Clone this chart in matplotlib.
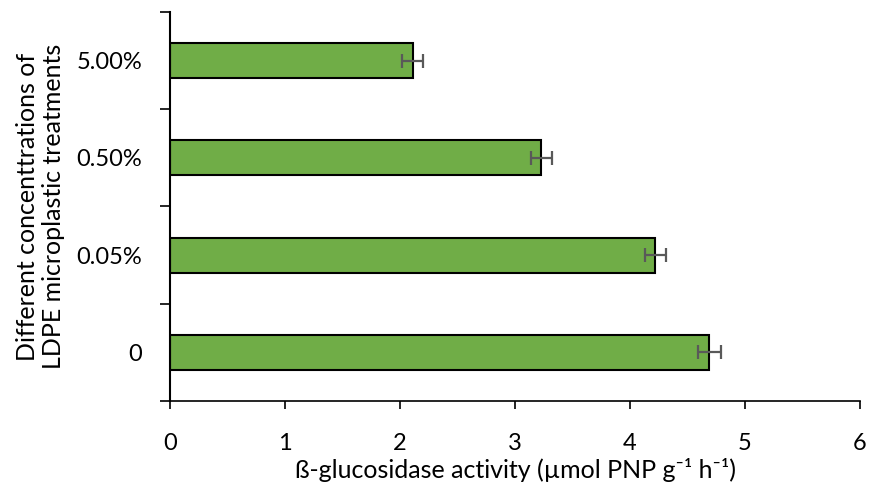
import matplotlib.pyplot as plt
import numpy as np

plt.rcParams["font.family"] = ["Lato", "DejaVu Sans"]

categories = ["0", "0.05%", "0.50%", "5.00%"]
activity = [4.69, 4.22, 3.23, 2.11]
errors = [0.10, 0.09, 0.09, 0.09]

fig = plt.figure(figsize=(8.75, 4.9), dpi=100)
ax = fig.add_axes([0.1943, 0.1816, 0.7886, 0.794])

y = np.arange(len(categories))
ax.barh(y, activity, height=0.36, color="#70AD47", edgecolor="black", linewidth=1.5,
        xerr=errors, error_kw=dict(ecolor="#595959", elinewidth=1.6, capsize=5, capthick=1.6))

ax.set_xlim(0, 6)
ax.set_ylim(-0.5, 3.5)
ax.set_xticks(range(7))
ax.set_yticks(y)
ax.set_yticklabels(categories)
ax.set_yticks(np.arange(-0.5, 4, 1), minor=True)

ax.tick_params(axis="x", length=6, width=1.2, pad=17, labelsize=17)
ax.tick_params(axis="y", which="major", length=0, pad=20, labelsize=17)
ax.tick_params(axis="y", which="minor", length=7, width=1.2)

for s in ["top", "right"]:
    ax.spines[s].set_visible(False)
ax.spines["left"].set_linewidth(1.5)
ax.spines["bottom"].set_linewidth(1.2)

ax.set_xlabel("ß-glucosidase activity (µmol PNP g⁻¹ h⁻¹)", fontsize=18, labelpad=3)
ax.set_ylabel("Different concenttrations of\nLDPE microplastic treatments", fontsize=18, labelpad=8)

fig.savefig("out.png", dpi=100)
